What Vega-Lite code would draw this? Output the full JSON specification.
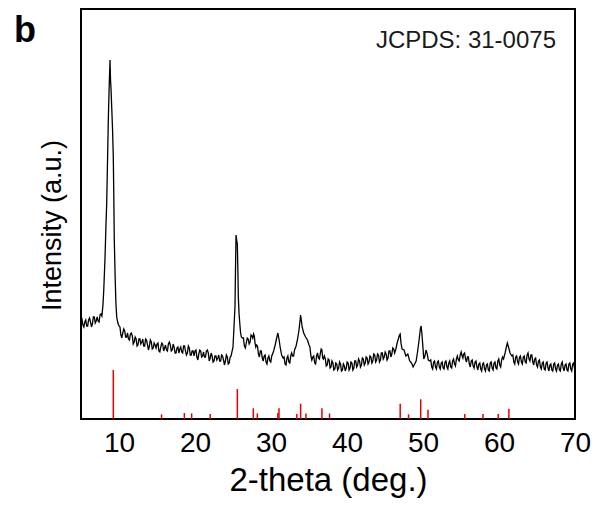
{
  "$schema": "https://vega.github.io/schema/vega-lite/v6.json",
  "width": 494,
  "height": 410,
  "autosize": {"type": "none"},
  "padding": {"left": 81, "top": 9, "right": 26, "bottom": 87},
  "background": "white",
  "view": {"stroke": "black", "strokeWidth": 2},
  "config": {
    "font": "Liberation Sans",
    "axis": {"grid": false, "ticks": false, "domain": false, "titleFontWeight": "normal", "labelColor": "black", "titleColor": "black"}
  },
  "title": {"text": "b", "anchor": "start", "frame": "group", "fontSize": 36, "fontWeight": "bold", "color": "black", "baseline": "alphabetic", "dx": -67, "dy": 69, "offset": 0},
  "datasets": {
    "xrd": [
      {"t":5.00,"i":99},{"t":5.25,"i":94},{"t":5.50,"i":97},{"t":5.75,"i":93},{"t":6.00,"i":99},{"t":6.25,"i":97},{"t":6.50,"i":95},{"t":6.75,"i":102},{"t":7.00,"i":98},{"t":7.25,"i":98},{"t":7.50,"i":104},{"t":7.75,"i":103},{"t":7.90,"i":115},{"t":8.00,"i":130},{"t":8.16,"i":161},{"t":8.27,"i":190},{"t":8.38,"i":215},{"t":8.50,"i":262},{"t":8.60,"i":301},{"t":8.70,"i":330},{"t":8.76,"i":345},{"t":8.82,"i":359},{"t":8.88,"i":340},{"t":8.95,"i":330},{"t":9.04,"i":312},{"t":9.15,"i":290},{"t":9.25,"i":262},{"t":9.32,"i":220},{"t":9.38,"i":179},{"t":9.50,"i":140},{"t":9.60,"i":115},{"t":9.70,"i":102},{"t":9.85,"i":96},{"t":10.00,"i":93},{"t":10.25,"i":84},{"t":10.50,"i":86},{"t":10.75,"i":88},{"t":11.00,"i":82},{"t":11.25,"i":80},{"t":11.50,"i":85},{"t":11.75,"i":83},{"t":12.00,"i":77},{"t":12.25,"i":80},{"t":12.50,"i":74},{"t":12.75,"i":80},{"t":13.00,"i":77},{"t":13.25,"i":73},{"t":13.50,"i":80},{"t":13.75,"i":74},{"t":14.00,"i":73},{"t":14.25,"i":77},{"t":14.50,"i":71},{"t":14.75,"i":74},{"t":15.00,"i":75},{"t":15.25,"i":68},{"t":15.50,"i":72},{"t":15.75,"i":75},{"t":16.00,"i":71},{"t":16.25,"i":69},{"t":16.50,"i":75},{"t":16.75,"i":74},{"t":17.00,"i":69},{"t":17.25,"i":72},{"t":17.50,"i":66},{"t":17.75,"i":72},{"t":18.00,"i":70},{"t":18.25,"i":67},{"t":18.50,"i":73},{"t":18.75,"i":68},{"t":19.00,"i":66},{"t":19.25,"i":71},{"t":19.50,"i":64},{"t":19.75,"i":68},{"t":20.00,"i":68},{"t":20.25,"i":62},{"t":20.50,"i":65},{"t":20.75,"i":68},{"t":21.00,"i":63},{"t":21.25,"i":62},{"t":21.50,"i":68},{"t":21.75,"i":66},{"t":22.00,"i":61},{"t":22.25,"i":63},{"t":22.50,"i":58},{"t":22.75,"i":63},{"t":23.00,"i":61},{"t":23.25,"i":58},{"t":23.50,"i":64},{"t":23.75,"i":59},{"t":24.00,"i":58},{"t":24.25,"i":62},{"t":24.50,"i":56},{"t":24.75,"i":63},{"t":25.00,"i":72},{"t":25.15,"i":95},{"t":25.26,"i":112},{"t":25.33,"i":150},{"t":25.40,"i":184},{"t":25.50,"i":178},{"t":25.57,"i":175},{"t":25.65,"i":145},{"t":25.70,"i":122},{"t":25.80,"i":105},{"t":25.90,"i":95},{"t":26.00,"i":86},{"t":26.10,"i":82},{"t":26.25,"i":81},{"t":26.50,"i":73},{"t":26.75,"i":76},{"t":27.00,"i":80},{"t":27.25,"i":77},{"t":27.50,"i":83},{"t":27.70,"i":85},{"t":27.90,"i":76},{"t":28.10,"i":74},{"t":28.35,"i":65},{"t":28.60,"i":68},{"t":28.85,"i":61},{"t":29.10,"i":63},{"t":29.35,"i":57},{"t":29.60,"i":61},{"t":29.85,"i":58},{"t":30.10,"i":63},{"t":30.35,"i":68},{"t":30.55,"i":74},{"t":30.75,"i":81},{"t":30.90,"i":86},{"t":31.05,"i":80},{"t":31.20,"i":72},{"t":31.40,"i":64},{"t":31.60,"i":61},{"t":31.85,"i":55},{"t":32.10,"i":61},{"t":32.35,"i":57},{"t":32.60,"i":63},{"t":32.85,"i":63},{"t":33.10,"i":69},{"t":33.30,"i":73},{"t":33.50,"i":80},{"t":33.70,"i":90},{"t":33.90,"i":104},{"t":34.00,"i":98},{"t":34.10,"i":92},{"t":34.30,"i":86},{"t":34.55,"i":82},{"t":34.80,"i":79},{"t":35.00,"i":74},{"t":35.25,"i":63},{"t":35.50,"i":62},{"t":35.75,"i":56},{"t":36.00,"i":63},{"t":36.25,"i":61},{"t":36.50,"i":66},{"t":36.70,"i":69},{"t":36.90,"i":60},{"t":37.15,"i":60},{"t":37.40,"i":54},{"t":37.65,"i":59},{"t":37.90,"i":52},{"t":38.15,"i":56},{"t":38.40,"i":50},{"t":38.65,"i":55},{"t":38.90,"i":51},{"t":39.15,"i":55},{"t":39.40,"i":49},{"t":39.65,"i":53},{"t":39.90,"i":51},{"t":40.15,"i":56},{"t":40.40,"i":51},{"t":40.65,"i":56},{"t":40.90,"i":51},{"t":41.15,"i":58},{"t":41.40,"i":54},{"t":41.65,"i":58},{"t":41.90,"i":54},{"t":42.15,"i":60},{"t":42.40,"i":56},{"t":42.65,"i":61},{"t":42.90,"i":57},{"t":43.15,"i":62},{"t":43.40,"i":58},{"t":43.65,"i":64},{"t":43.90,"i":59},{"t":44.15,"i":64},{"t":44.40,"i":59},{"t":44.65,"i":66},{"t":44.90,"i":62},{"t":45.15,"i":65},{"t":45.40,"i":61},{"t":45.65,"i":68},{"t":45.90,"i":65},{"t":46.15,"i":70},{"t":46.40,"i":69},{"t":46.60,"i":76},{"t":46.75,"i":80},{"t":46.90,"i":84},{"t":47.00,"i":85},{"t":47.10,"i":76},{"t":47.25,"i":70},{"t":47.50,"i":69},{"t":47.75,"i":63},{"t":48.00,"i":65},{"t":48.25,"i":58},{"t":48.50,"i":56},{"t":48.70,"i":52},{"t":48.90,"i":55},{"t":49.10,"i":58},{"t":49.30,"i":68},{"t":49.50,"i":80},{"t":49.65,"i":90},{"t":49.75,"i":93},{"t":49.85,"i":86},{"t":49.95,"i":76},{"t":50.10,"i":60},{"t":50.25,"i":63},{"t":50.40,"i":69},{"t":50.55,"i":65},{"t":50.70,"i":59},{"t":50.90,"i":58},{"t":51.15,"i":52},{"t":51.40,"i":57},{"t":51.65,"i":52},{"t":51.90,"i":57},{"t":52.15,"i":52},{"t":52.40,"i":56},{"t":52.65,"i":51},{"t":52.90,"i":57},{"t":53.15,"i":52},{"t":53.40,"i":56},{"t":53.65,"i":52},{"t":53.90,"i":58},{"t":54.15,"i":55},{"t":54.40,"i":60},{"t":54.65,"i":59},{"t":54.90,"i":64},{"t":55.15,"i":63},{"t":55.35,"i":65},{"t":55.60,"i":60},{"t":55.85,"i":62},{"t":56.10,"i":55},{"t":56.35,"i":58},{"t":56.60,"i":53},{"t":56.85,"i":57},{"t":57.10,"i":52},{"t":57.35,"i":55},{"t":57.60,"i":50},{"t":57.85,"i":55},{"t":58.10,"i":50},{"t":58.35,"i":54},{"t":58.60,"i":49},{"t":58.85,"i":56},{"t":59.10,"i":51},{"t":59.35,"i":56},{"t":59.60,"i":51},{"t":59.85,"i":58},{"t":60.10,"i":54},{"t":60.35,"i":59},{"t":60.60,"i":60},{"t":60.80,"i":66},{"t":61.00,"i":73},{"t":61.10,"i":76},{"t":61.25,"i":72},{"t":61.45,"i":66},{"t":61.70,"i":63},{"t":61.95,"i":57},{"t":62.20,"i":62},{"t":62.45,"i":57},{"t":62.70,"i":62},{"t":62.95,"i":57},{"t":63.20,"i":62},{"t":63.45,"i":57},{"t":63.70,"i":64},{"t":63.95,"i":60},{"t":64.20,"i":64},{"t":64.45,"i":57},{"t":64.70,"i":60},{"t":64.95,"i":54},{"t":65.20,"i":58},{"t":65.45,"i":52},{"t":65.70,"i":56},{"t":65.95,"i":50},{"t":66.20,"i":56},{"t":66.45,"i":51},{"t":66.70,"i":54},{"t":66.95,"i":49},{"t":67.20,"i":55},{"t":67.45,"i":50},{"t":67.70,"i":54},{"t":67.95,"i":49},{"t":68.20,"i":55},{"t":68.45,"i":51},{"t":68.70,"i":54},{"t":68.95,"i":49},{"t":69.20,"i":55},{"t":69.45,"i":50},{"t":69.70,"i":55},{"t":69.95,"i":50},
      {"t":5.125,"i":100},{"t":5.375,"i":92},{"t":5.625,"i":99},{"t":5.875,"i":93},{"t":6.125,"i":101},{"t":6.375,"i":92},{"t":6.625,"i":102},{"t":6.875,"i":96},{"t":7.125,"i":102},{"t":7.375,"i":97},{"t":7.625,"i":105},
      {"t":10.125,"i":92},{"t":10.375,"i":81},{"t":10.625,"i":90},{"t":10.875,"i":82},{"t":11.125,"i":86},{"t":11.375,"i":79},{"t":11.625,"i":86},{"t":11.875,"i":75},{"t":12.125,"i":82},{"t":12.375,"i":73},{"t":12.625,"i":80},{"t":12.875,"i":75},{"t":13.125,"i":80},{"t":13.375,"i":73},{"t":13.625,"i":79},{"t":13.875,"i":69},{"t":14.125,"i":79},{"t":14.375,"i":70},{"t":14.625,"i":76},{"t":14.875,"i":71},{"t":15.125,"i":76},{"t":15.375,"i":67},{"t":15.625,"i":76},{"t":15.875,"i":68},{"t":16.125,"i":74},{"t":16.375,"i":68},{"t":16.625,"i":77},{"t":16.875,"i":68},{"t":17.125,"i":75},{"t":17.375,"i":66},{"t":17.625,"i":71},{"t":17.875,"i":66},{"t":18.125,"i":72},{"t":18.375,"i":66},{"t":18.625,"i":73},{"t":18.875,"i":64},{"t":19.125,"i":73},{"t":19.375,"i":64},{"t":19.625,"i":68},{"t":19.875,"i":63},{"t":20.125,"i":69},{"t":20.375,"i":59},{"t":20.625,"i":69},{"t":20.875,"i":62},{"t":21.125,"i":67},{"t":21.375,"i":62},{"t":21.625,"i":69},{"t":21.875,"i":58},{"t":22.125,"i":66},{"t":22.375,"i":57},{"t":22.625,"i":63},{"t":22.875,"i":59},{"t":23.125,"i":64},{"t":23.375,"i":58},{"t":23.625,"i":63},{"t":23.875,"i":54},{"t":24.125,"i":64},{"t":24.375,"i":55},{"t":24.625,"i":62},
      {"t":26.375,"i":81},{"t":26.625,"i":71},{"t":26.875,"i":81},{"t":27.125,"i":75},{"t":27.375,"i":84},{"t":27.6,"i":81},{"t":27.8,"i":83},{"t":28.0,"i":72},{"t":28.22,"i":73},{"t":28.47,"i":62},{"t":28.72,"i":68},{"t":28.97,"i":58},{"t":29.22,"i":64},{"t":29.47,"i":55},{"t":29.72,"i":63},{"t":29.97,"i":57},
      {"t":31.72,"i":62},{"t":31.97,"i":54},{"t":32.22,"i":63},{"t":32.47,"i":56},{"t":32.72,"i":66},{"t":32.97,"i":63},
      {"t":35.12,"i":72},{"t":35.37,"i":59},{"t":35.62,"i":63},{"t":35.87,"i":55},{"t":36.12,"i":66},{"t":36.37,"i":60},{"t":36.6,"i":70},{"t":36.8,"i":61},{"t":37.02,"i":63},{"t":37.27,"i":53},{"t":37.52,"i":60},{"t":37.77,"i":51},{"t":38.02,"i":58},{"t":38.27,"i":49},{"t":38.52,"i":56},{"t":38.77,"i":49},{"t":39.02,"i":57},{"t":39.27,"i":48},{"t":39.52,"i":55},{"t":39.77,"i":48},{"t":40.02,"i":57},{"t":40.27,"i":49},{"t":40.52,"i":57},{"t":40.77,"i":49},{"t":41.02,"i":58},{"t":41.27,"i":52},{"t":41.52,"i":60},{"t":41.77,"i":52},{"t":42.02,"i":61},{"t":42.27,"i":54},{"t":42.52,"i":62},{"t":42.77,"i":55},{"t":43.02,"i":63},{"t":43.27,"i":56},{"t":43.52,"i":65},{"t":43.77,"i":57},{"t":44.02,"i":65},{"t":44.27,"i":57},{"t":44.52,"i":66},{"t":44.77,"i":60},{"t":45.02,"i":67},{"t":45.27,"i":59},{"t":45.52,"i":68},{"t":45.77,"i":62},{"t":46.02,"i":71},{"t":46.27,"i":66},
      {"t":51.02,"i":59},{"t":51.27,"i":50},{"t":51.52,"i":58},{"t":51.77,"i":50},{"t":52.02,"i":58},{"t":52.27,"i":50},{"t":52.52,"i":57},{"t":52.77,"i":50},{"t":53.02,"i":58},{"t":53.27,"i":50},{"t":53.52,"i":58},{"t":53.77,"i":51},{"t":54.02,"i":60},{"t":54.27,"i":53},{"t":54.52,"i":63},{"t":54.77,"i":58},{"t":55.02,"i":67},{"t":55.25,"i":61},{"t":55.47,"i":66},{"t":55.72,"i":57},{"t":55.97,"i":62},{"t":56.22,"i":52},{"t":56.47,"i":59},{"t":56.72,"i":51},{"t":56.97,"i":58},{"t":57.22,"i":49},{"t":57.47,"i":56},{"t":57.72,"i":48},{"t":57.97,"i":56},{"t":58.22,"i":48},{"t":58.47,"i":55},{"t":58.72,"i":48},{"t":58.97,"i":57},{"t":59.22,"i":49},{"t":59.47,"i":57},{"t":59.72,"i":50},{"t":59.97,"i":60},{"t":60.22,"i":52},{"t":60.47,"i":62},
      {"t":61.82,"i":64},{"t":62.07,"i":55},{"t":62.32,"i":63},{"t":62.57,"i":55},{"t":62.82,"i":63},{"t":63.07,"i":55},{"t":63.32,"i":63},{"t":63.57,"i":56},{"t":63.82,"i":66},{"t":64.07,"i":58},{"t":64.32,"i":64},{"t":64.57,"i":54},{"t":64.82,"i":61},{"t":65.07,"i":52},{"t":65.32,"i":59},{"t":65.57,"i":50},{"t":65.82,"i":57},{"t":66.07,"i":49},{"t":66.32,"i":57},{"t":66.57,"i":48},{"t":66.82,"i":55},{"t":67.07,"i":48},{"t":67.32,"i":56},{"t":67.57,"i":48},{"t":67.82,"i":55},{"t":68.07,"i":48},{"t":68.32,"i":57},{"t":68.57,"i":48},{"t":68.82,"i":55},{"t":69.07,"i":48},{"t":69.32,"i":56},{"t":69.57,"i":48},{"t":69.82,"i":56}
    ],
    "ref": [
      {"t":9.25,"i":49},{"t":15.6,"i":4.7},{"t":18.6,"i":6},{"t":19.56,"i":5.5},{"t":22.0,"i":5},{"t":25.57,"i":30},{"t":27.67,"i":10.7},{"t":28.2,"i":5.5},{"t":30.9,"i":6},{"t":31.05,"i":10.7},{"t":33.4,"i":5},{"t":33.9,"i":15.3},{"t":34.6,"i":5.5},{"t":36.7,"i":10.7},{"t":37.7,"i":5.5},{"t":47.0,"i":15.3},{"t":48.1,"i":4.7},{"t":49.7,"i":19.7},{"t":50.66,"i":9.3},{"t":55.5,"i":5},{"t":57.9,"i":5},{"t":59.9,"i":5},{"t":61.3,"i":10.3}
    ],
    "note": [{"t":67.5,"i":371,"label":"JCPDS: 31-0075"}]
  },
  "layer": [
    {
      "data": {"name": "xrd"},
      "mark": {"type": "line", "color": "black", "strokeWidth": 1.3, "clip": true},
      "encoding": {
        "x": {"field": "t", "type": "quantitative", "title": "2-theta (deg.)", "scale": {"domain": [5, 70], "nice": false, "zero": false},
              "axis": {"values": [10, 20, 30, 40, 50, 60, 70], "labelFontSize": 28, "labelPadding": 10, "titleFontSize": 33, "titlePadding": 7, "labelFlush": false}},
        "y": {"field": "i", "type": "quantitative", "title": "Intensity (a.u.)", "scale": {"domain": [0, 410], "nice": false},
              "axis": {"labels": false, "titleFontSize": 27, "titlePadding": 15, "titleY": 216}}
      }
    },
    {
      "data": {"name": "ref"},
      "mark": {"type": "rule", "color": "#e60000", "strokeWidth": 1.5},
      "encoding": {
        "x": {"field": "t", "type": "quantitative", "title": "2-theta (deg.)"},
        "y": {"field": "i", "type": "quantitative", "title": "Intensity (a.u.)"},
        "y2": {"datum": 0}
      }
    },
    {
      "data": {"name": "note"},
      "mark": {"type": "text", "align": "right", "baseline": "alphabetic", "fontSize": 24, "color": "#1a1a1a"},
      "encoding": {
        "x": {"field": "t", "type": "quantitative", "title": "2-theta (deg.)"},
        "y": {"field": "i", "type": "quantitative", "title": "Intensity (a.u.)"},
        "text": {"field": "label"}
      }
    }
  ]
}
